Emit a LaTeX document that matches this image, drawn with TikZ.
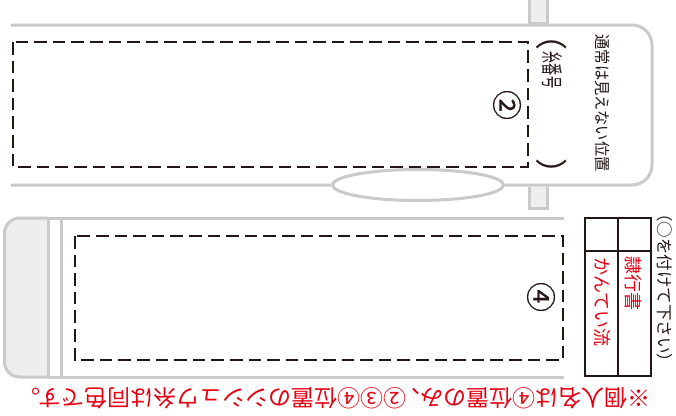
\documentclass[tikz,border=0pt]{standalone}
\usepackage{graphicx}
\usepackage{fontspec}
\setmainfont{Noto Sans CJK JP}
\newfontface\circledfont[FakeBold=.5]{Noto Sans CJK JP}
\usetikzlibrary{shapes.geometric}
\definecolor{formgray}{HTML}{C9CACA}
\definecolor{tabgray}{HTML}{EEEEEE}
\definecolor{inkblack}{HTML}{231815}
\definecolor{inkred}{HTML}{E60012}
\begin{document}
\begin{tikzpicture}[x=1pt,y=-1pt,
		form line/.style={draw=formgray,line width=3pt},
		stitch box/.style={draw=inkblack,line width=2.4pt,dash pattern=on 12.6pt off 6pt},
		table line/.style={draw=inkblack,line width=1.7pt},
		black text/.style={text=inkblack,inner sep=0pt,rotate=-90},
		red text/.style={text=inkred,inner sep=0pt,rotate=-90}]
		
		\useasboundingbox (0,0) rectangle (676,415);
		
		\path[form line,fill=tabgray] (529,-2) -- (529,23) -- (547,23) -- (547,-2);
		\path[form line,fill=tabgray] (529,187) -- (529,208) -- (547,208) -- (547,187);
		\path[form line,rounded corners=20pt,fill=white] (11,25) -- (652,25) -- (652,185) -- (11,185);
		\node[ellipse,form line,fill=white,minimum width=171pt,minimum height=31pt,inner sep=0pt] (hole) at (418,185) {};
		\path[stitch box] (13,42) rectangle (528,167);
		
		\node[black text,font=\fontsize{16}{16}\selectfont] (hidden) at (603,103) {\scalebox{.95}[1]{通常は見えない位置}};
		\node[black text,font=\fontsize{22}{22}\selectfont] (thread) at (552,70) {\scalebox{.55}[1]{糸番号}};
		\node[black text,font=\fontsize{32}{32}\selectfont] (openp) at (552,34) {（};
		\node[black text,font=\fontsize{32}{32}\selectfont] (closep) at (552,174) {）};
		\node[black text,font=\fontsize{30}{30}\circledfont] (two) at (507,105) {②};
		
		\path[form line,rounded corners=15pt,fill=tabgray] (48,218) -- (4.5,218) -- (4.5,377) -- (48,377);
		\path[form line] (564,218) -- (48,218) -- (48,377) -- (564,377);
		\path[form line] (61,218) -- (61,377);
		\path[stitch box] (75,236) rectangle (563,360);
		\node[black text,font=\fontsize{30}{30}\circledfont] (four) at (541,297) {④};
		
		\path[table line] (585,218) rectangle (651,376);
		\path[table line] (618,218) -- (618,376);
		\path[table line] (585,251) -- (651,251);
		\node[red text,font=\fontsize{18}{18}\selectfont] (style1) at (633,283) {隷行書};
		\node[red text,font=\fontsize{18}{18}\selectfont] (style2) at (602,302) {かんてい流};
		\node[black text,font=\fontsize{16.5}{16.5}\selectfont] (circle) at (665,287.5) {（○を付けて下さい）};
		
		\node[text=inkred,inner sep=0pt,rotate=180,font=\fontsize{23}{23}\selectfont] (note) at (334,398) {※個人名は④位置のみ、\kern-9.5pt ②③④位置のシシュウ糸は同色です。};
\end{tikzpicture}
\end{document}
